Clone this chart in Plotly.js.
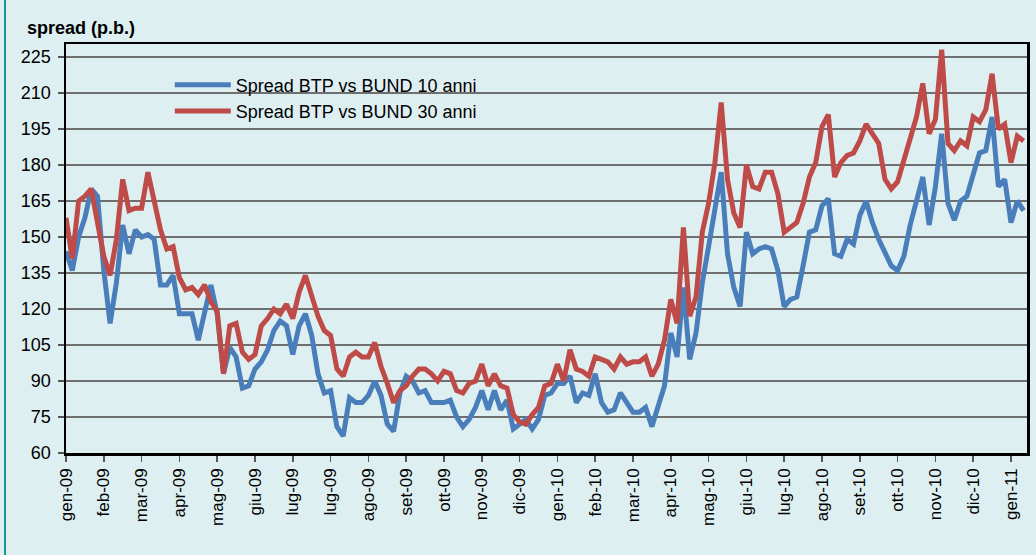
<!DOCTYPE html>
<html>
<head>
<meta charset="utf-8">
<script src="https://cdn.plot.ly/plotly-3.0.1.min.js"></script>
<style>
  html, body { margin: 0; padding: 0; background: #deeff1; }
  #wrap { position: relative; width: 1036px; height: 555px; background: #deeff1; }
  #chart { width: 1036px; height: 555px; }
  #edge { position: absolute; left: 4px; top: 0; width: 2px; height: 555px; background: #1a9898; }
</style>
</head>
<body>
<div id="wrap">
  <div id="chart"></div>
  <div id="edge"></div>
</div>
<script>
// Sampling step of the series (days) and axis tick step (days)
const stepDays = 5;
const tickStepDays = 30;

const tickLabels = ["gen-09","feb-09","mar-09","apr-09","mag-09","giu-09","lug-09","lug-09",
  "ago-09","set-09","ott-09","nov-09","dic-09","gen-10","feb-10","mar-10","apr-10","mag-10",
  "giu-10","lug-10","ago-10","set-10","ott-10","nov-10","dic-10","gen-11"];

// Spread BTP vs BUND 10 anni (p.b.)
const spread10 = [
  144,136,150,158,170,167,136,114,131,155,
  143,153,150,151,149,130,130,134,118,118,
  118,107,118,130,118,93,104,100,87,88,
  95,98,103,111,115,113,101,113,118,109,
  93,85,86,71,67,83,81,81,84,90,
  84,72,69,85,92,90,85,86,81,81,
  81,82,75,71,74,79,86,78,86,78,
  82,70,72,74,70,74,84,85,89,89,
  92,81,85,84,93,81,77,78,85,81,
  77,77,79,71,79,88,110,100,129,99,
  110,131,146,163,177,143,129,121,152,143,
  145,146,145,136,121,124,125,138,152,153,
  163,166,143,142,149,147,159,165,156,149,
  143,138,136,142,155,165,175,155,171,193,
  164,157,165,167,177,185,186,200,171,174,
  156,165,161
];

// Spread BTP vs BUND 30 anni (p.b.)
const spread30 = [
  158,141,165,167,170,157,142,134,149,174,
  161,162,162,177,166,153,145,146,133,128,
  129,126,130,123,119,93,113,114,102,99,
  101,113,116,120,118,122,116,127,134,125,
  117,111,109,95,92,100,102,100,100,106,
  96,89,81,86,88,92,95,95,93,90,
  94,93,86,85,89,90,97,88,93,88,
  87,76,73,72,76,79,88,89,97,90,
  103,95,94,92,100,99,98,95,100,97,
  98,98,100,92,97,107,124,114,154,117,
  125,152,164,181,206,174,160,154,180,171,
  170,177,177,168,152,154,156,164,175,181,
  196,201,175,181,184,185,190,197,193,189,
  174,170,173,182,190,200,214,193,199,228,
  189,186,190,188,200,198,203,218,195,197,
  181,192,190
];

const yTicks = [60,75,90,105,120,135,150,165,180,195,210,225];

const days = spread10.map((_, i) => i * stepDays);
const tickVals = tickLabels.map((_, i) => i * tickStepDays);

const font = "Liberation Sans, Arial, sans-serif";

const traces = [
  {x: days, y: spread10, type: "scatter", mode: "lines", name: "Spread BTP vs BUND 10 anni",
   line: {color: "#4a7ebb", width: 5, shape: "linear"}},
  {x: days, y: spread30, type: "scatter", mode: "lines", name: "Spread BTP vs BUND 30 anni",
   line: {color: "#be4b48", width: 5, shape: "linear"}}
];

const layout = {
  width: 1036, height: 555,
  paper_bgcolor: "#deeff1", plot_bgcolor: "#deeff1",
  margin: {l: 66, r: 9, t: 44, b: 102},
  font: {family: font, size: 18, color: "#000"},
  showlegend: true,
  legend: {x: 0.108, y: 0.945, xanchor: "left", yanchor: "top", bgcolor: "rgba(0,0,0,0)",
           font: {family: font, size: 18, color: "#000"}, itemwidth: 56, tracegroupgap: 0},
  xaxis: {
    range: [0, 762.7], tickmode: "array", tickvals: tickVals, ticktext: tickLabels,
    tickangle: -90, ticks: "outside", ticklen: 6, tickwidth: 1.5, tickcolor: "#555",
    showline: true, linecolor: "#000", linewidth: 2.5, mirror: true,
    showgrid: false, zeroline: false,
    tickfont: {family: font, size: 17, color: "#000"}
  },
  yaxis: {
    range: [60, 230.4], tickmode: "array", tickvals: yTicks,
    ticks: "outside", ticklen: 6, tickwidth: 1.5, tickcolor: "#555",
    showline: true, linecolor: "#000", linewidth: 2.5, mirror: true,
    showgrid: true, gridcolor: "#6f6f6f", gridwidth: 1.5, zeroline: false,
    tickfont: {family: font, size: 18, color: "#000"}, ticklabelstandoff: 3
  },
  annotations: [{
    text: "<b>spread (p.b.)</b>", xref: "paper", yref: "paper",
    x: -0.0427, y: 1.039, xanchor: "left", yanchor: "middle", showarrow: false,
    font: {family: font, size: 18, color: "#000"}
  }]
};

Plotly.newPlot("chart", traces, layout, {displayModeBar: false, staticPlot: true});
</script>
</body>
</html>
